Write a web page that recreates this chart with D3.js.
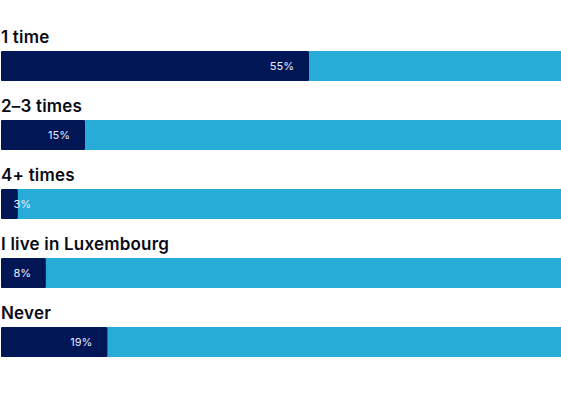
<!DOCTYPE html>
<html>
<head>
<meta charset="utf-8">
<script src="https://cdn.jsdelivr.net/npm/d3@7"></script>
<style>
  body { margin: 0; background: #fff; }
</style>
</head>
<body>
<div class="chart"></div>
<script>
var categories = ['1 time', '2\u20133 times', '4+ times', 'I live in Luxembourg', 'Never'];
var values = [55, 15, 3, 8, 19];

var width = 561, height = 401;
var margin = { top: 22, right: 0, bottom: 0, left: 1 };

var svg = d3.select('.chart')
  .append('svg')
  .attr('width', width)
  .attr('height', height);

var g = svg.append('g')
  .attr('transform', `translate(${margin.left}, ${margin.top})`);

var xScale = d3.scaleLinear()
  .domain([0, 100])
  .range([0, width - margin.left - margin.right]);

// each row = label + bar, 69px apart
var yScale = d3.scaleBand()
  .domain(categories)
  .range([0, 69 * categories.length])
  .paddingInner(0)
  .paddingOuter(0);

var barH = 30, barOff = 29;

var rows = g.selectAll('.row')
  .data(categories.map((c, i) => ({ cat: c, v: values[i] })))
  .enter()
  .append('g')
  .attr('class', 'row')
  .attr('transform', d => `translate(0, ${yScale(d.cat)})`);

rows.append('text')
  .attr('x', 0)
  .attr('y', 21)
  .style('font-family', 'Inter, "Open Sans", sans-serif')
  .style('font-size', '17px')
  .style('font-weight', 600)
  .style('letter-spacing', '0.2px')
  .style('fill', '#0a0a14')
  .text(d => d.cat);

rows.append('rect')
  .attr('x', 0)
  .attr('y', barOff)
  .attr('width', xScale(100))
  .attr('height', barH)
  .style('fill', '#27acd8');

rows.append('rect')
  .attr('x', 0)
  .attr('y', barOff)
  .attr('width', d => xScale(d.v))
  .attr('height', barH)
  .attr('rx', 1.5)
  .style('fill', '#001655');

rows.append('text')
  .attr('x', d => Math.max(xScale(d.v) - 15, 30))
  .attr('y', barOff + barH / 2 + 4)
  .style('text-anchor', 'end')
  .style('font-family', 'Inter, "Open Sans", sans-serif')
  .style('font-size', '11px')
  .style('fill', '#e8eaff')
  .text(d => d.v + '%');
</script>
</body>
</html>
